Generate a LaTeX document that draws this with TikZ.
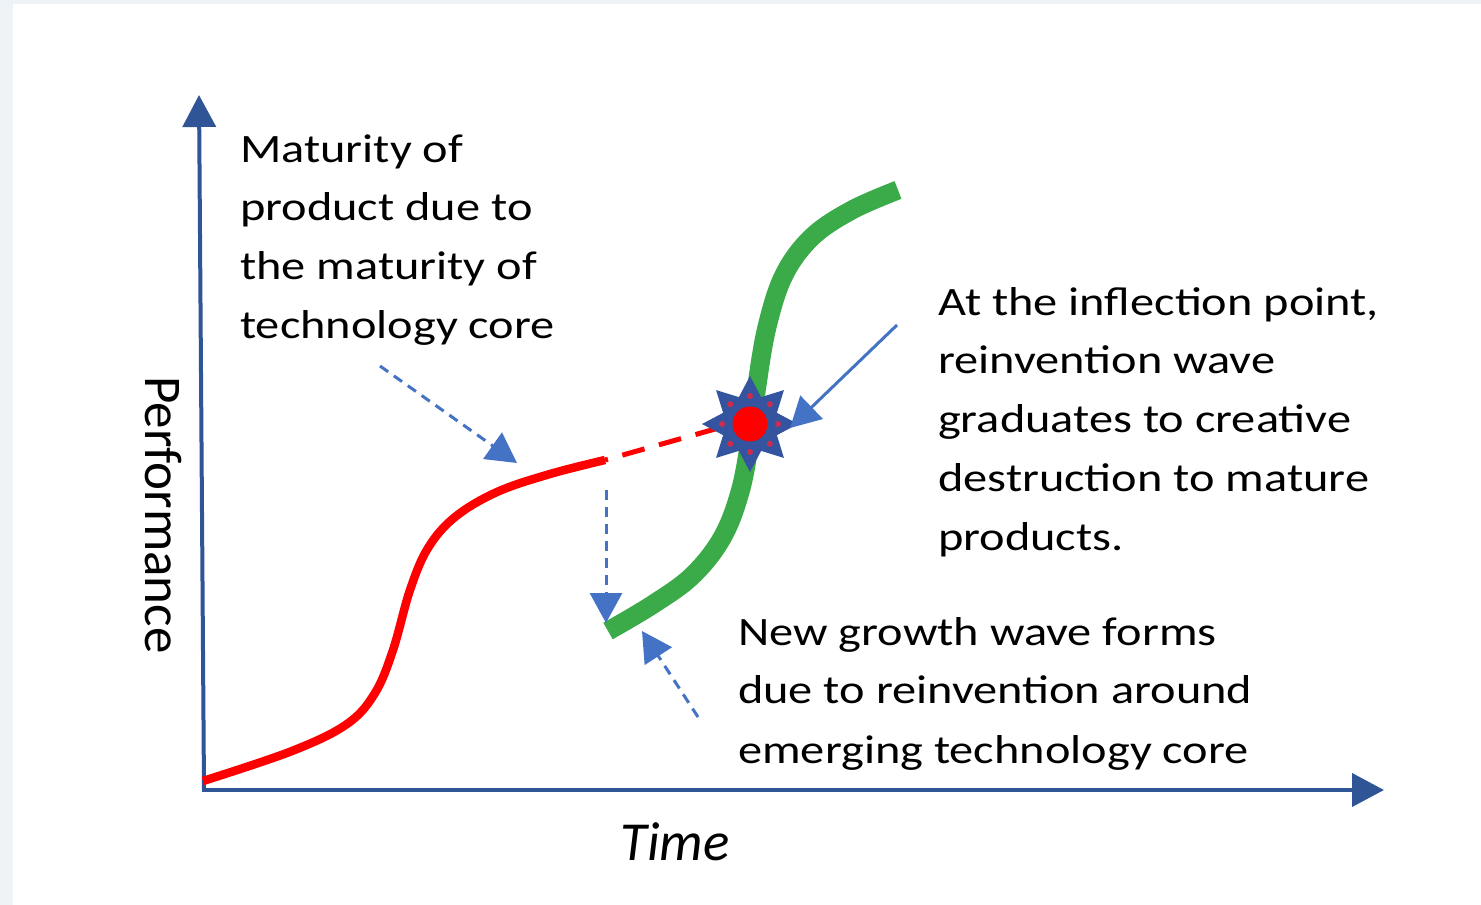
\documentclass[tikz,border=0pt]{standalone}
\usepackage{fontspec}
\setmainfont{Carlito}[FakeStretch=1.2]
\newfontfamily\plainfont{Carlito}
\usetikzlibrary{arrows.meta,shapes.geometric}

\definecolor{framebg}{RGB}{238,243,248}
\definecolor{axisblue}{RGB}{47,85,151}
\definecolor{arrowblue}{RGB}{68,114,196}
\definecolor{curvered}{RGB}{255,0,0}
\definecolor{curvegreen}{RGB}{59,170,73}
\definecolor{starblue}{RGB}{52,84,160}
\definecolor{dotred}{RGB}{205,45,75}

\tikzset{
  axisline/.style={draw=axisblue, line width=4pt,
    -{Triangle[length=32pt,width=33pt]}},
  pointer/.style={draw=arrowblue, line width=3pt,
    -{Triangle[length=30pt,width=32pt]}},
  dashpointer/.style={pointer, dash pattern=on 10pt off 7pt},
  oldwave/.style={draw=curvered, line width=8.5pt},
  extrapolation/.style={draw=curvered, line width=5pt, dash pattern=on 23pt off 15pt, dash phase=-18pt},
  newwave/.style={draw=curvegreen, line width=19pt},
  label/.style={anchor=base west, inner sep=0pt, font=\fontsize{40.3}{48}\selectfont, text=black},
}

\begin{document}
\begin{tikzpicture}[x=1pt,y=-1pt]
  % page frame
  \fill[framebg] (0,0) rectangle (1481,905);
  \fill[white] (13,4) rectangle (1481,905);
  \useasboundingbox (0,0) rectangle (1481,905);

  % axes
  \coordinate (origin) at (204,790);
  \coordinate (ytop) at (199,95);
  \coordinate (xend) at (1384,790);
  \draw[axisline] (origin) -- (ytop);
  \draw[axisline] (202,790) -- (xend);

  % mature S-curve
  \coordinate (oldstart) at (203,781);
  \coordinate (oldknee) at (517,463);
  \coordinate (oldend) at (605,460);
  \draw[oldwave] plot[smooth, tension=0.6] coordinates {
    (203,781) (292,751) (347,724) (375,693) (393,650) (410,590)
    (428,548) (455,517) (497,492) (550,474) (605,460)};
  \draw[extrapolation] (oldend) -- (740,422);

  % emerging S-curve
  \coordinate (newstart) at (608,630);
  \draw[newwave] plot[smooth, tension=0.6] coordinates {
    (608,631) (652,605) (692,576) (722,538) (740,492) (750,440)
    (757,385) (767,327) (784,275) (812,237) (852,210) (898,190)};

  % inflection burst
  \node[star, star points=8, star point ratio=1.65, minimum size=96pt,
        inner sep=0pt, fill=starblue, draw=none] (burst) at (750,424) {};
  \foreach \a in {0,45,...,315}
    \fill[dotred] (burst.center) ++(\a:28pt) circle (3pt);
  \fill[curvered] (burst.center) circle (17.5pt);

  % annotations
  \node[label] (m1) at (240,162) {Maturity of};
  \node[label] (m2) at (240,220) {product due to};
  \node[label] (m3) at (240,279) {the maturity of};
  \node[label] (m4) at (240,338) {technology core};

  \node[label] (i1) at (938,315) {At the inflection point,};
  \node[label] (i2) at (938,373) {reinvention wave};
  \node[label] (i3) at (938,432) {graduates to creative};
  \node[label] (i4) at (938,491) {destruction to mature};
  \node[label] (i5) at (938,550) {products.};

  \node[label] (g1) at (738,645) {New growth wave forms};
  \node[label] (g2) at (738,703) {due to reinvention around};
  \node[label] (g3) at (738,763) {emerging technology core};

  \node[anchor=base, inner sep=0pt, rotate=-90,
        font=\plainfont\fontsize{53}{62}\selectfont] (ylabel) at (145,515) {Performance};
  \node[anchor=base, inner sep=0pt,
        font=\plainfont\itshape\fontsize{55}{64}\selectfont] (xlabel) at (675,860) {Time};

  % pointers
  \coordinate (maturitytail) at (380,366);
  \coordinate (droptail) at (606,490);
  \coordinate (droptip) at (606,623);
  \coordinate (growthtail) at (698,717);
  \coordinate (growthtip) at (642,631);
  \coordinate (inflecttail) at (897,325);
  \coordinate (inflecttip) at (790,428);
  \draw[dashpointer] (maturitytail) -- (oldknee);
  \draw[dashpointer] (droptail) -- (droptip);
  \draw[dashpointer] (growthtail) -- (growthtip);
  \draw[pointer] (inflecttail) -- (inflecttip);
\end{tikzpicture}
\end{document}
